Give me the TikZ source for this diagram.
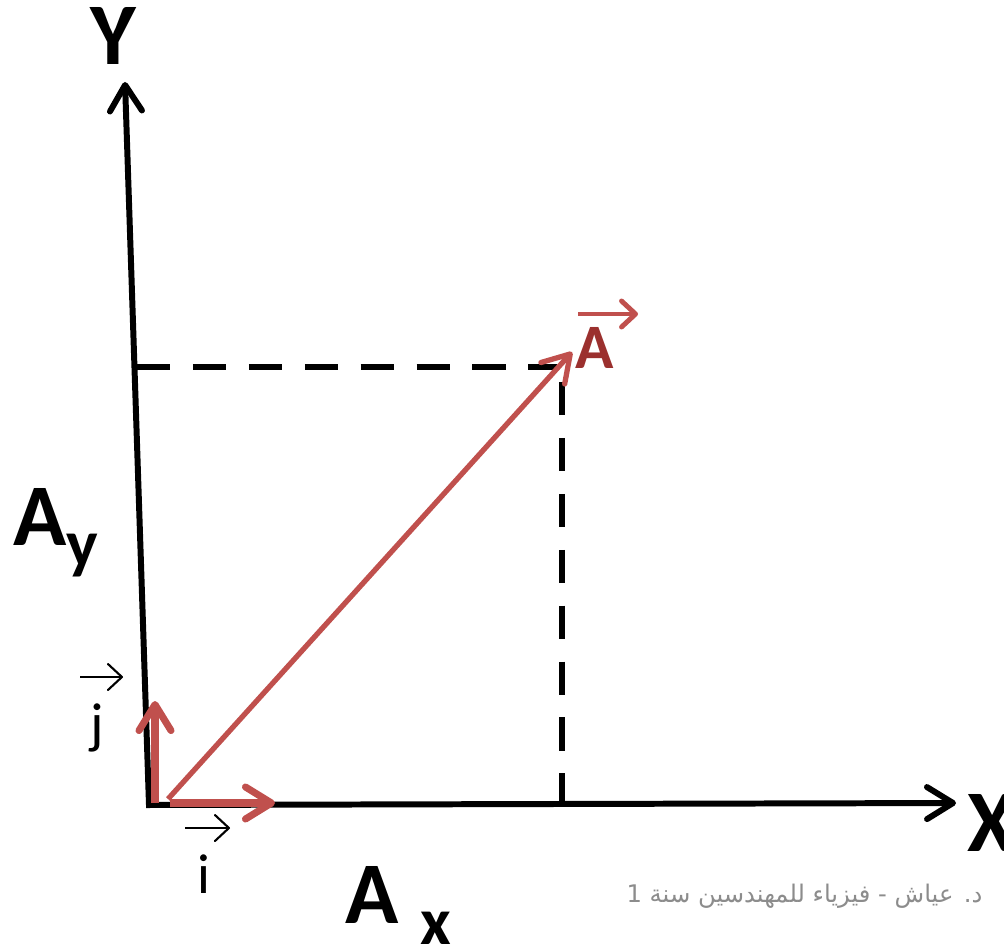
\documentclass[tikz,border=0pt]{standalone}
\usepackage{fontspec}
\setmainfont{Carlito}
\newfontfamily\arabicfont[Script=Arabic]{DejaVu Sans}
\usepackage{xcolor}
\usetikzlibrary{arrows.meta,positioning}
\TeXXeTstate=1
\definecolor{vecred}{RGB}{192,80,77}
\definecolor{labred}{RGB}{155,48,46}
\definecolor{notegray}{RGB}{140,140,140}

\begin{document}
\begin{tikzpicture}[x=0.01cm,y=-0.01cm,
  >={Straight Barb[length=2.6mm,width=3.2mm,round]},
  axis/.style={line width=1.7pt,line join=miter,<->},
  proj/.style={line width=1.7pt,dash pattern=on 9.4pt off 6.5pt},
  vec/.style={vecred,line width=1.5pt,->},
  unit vec/.style={vecred,line width=2pt,->},
  hat arrow/.style={line width=0.6pt,-{Straight Barb[length=1.4mm,width=2.6mm,round]}},
  big label/.style={font=\fontsize{25}{30}\selectfont\bfseries,inner sep=0pt},
  small label/.style={font=\fontsize{16}{19}\selectfont,inner sep=0pt}]
  \useasboundingbox (0,0) rectangle (1004,943);

  \coordinate (O) at (149,805);
  \coordinate (Ytip) at (125,82);
  \coordinate (Xtip) at (956,803);
  \draw[axis] (Ytip) -- (O) -- (Xtip);
  \node[big label] (ylab) at (113,36) {Y};
  \node[big label,anchor=west] (xlab) at (967,823) {X};

  % projections of A on the axes
  \coordinate (Py) at (137,367);
  \coordinate (Pc) at (557,367);
  \coordinate (Qc) at (562,382);
  \coordinate (Qx) at (562,803);
  \draw[proj] (Py) -- (Pc);
  \draw[proj] (Qc) -- (Qx);

  \coordinate (Astart) at (168,799);
  \coordinate (Atip) at (572,352);
  \draw[vec] (Astart) -- (Atip);
  \node[font=\fontsize{18}{22}\selectfont\bfseries,text=labred,inner sep=0pt] (alab) at (595,348) {A};
  \coordinate (ahat) at (578,314);
  \draw[hat arrow,vecred,line width=1.4pt] (ahat) -- ++(60,0);

  % unit vectors
  \coordinate (istart) at (170,803);
  \coordinate (itip) at (275,803);
  \coordinate (jstart) at (155,803);
  \coordinate (jtip) at (155,701);
  \draw[unit vec] (istart) -- (itip);
  \draw[unit vec] (jstart) -- (jtip);

  \node[small label,anchor=base] (ilab) at (204,893) {i};
  \node[small label,anchor=base] (jlab) at (97,742) {j};
  \coordinate (ihat) at (185,828);
  \coordinate (jhat) at (80,677);
  \draw[hat arrow] (ihat) -- ++(45,0);
  \draw[hat arrow] (jhat) -- ++(43,0);

  \node[big label,anchor=base west] (aylab) at (13,545)
    {A\raisebox{-6pt}{\fontsize{19}{22}\selectfont y}};
  \node[big label,anchor=base west] (axlab) at (345,923)
    {A\hspace{6pt}\raisebox{-6pt}{\fontsize{19}{22}\selectfont x}};

  \node[text=notegray,font=\fontsize{6.9}{8}\selectfont,inner sep=0pt,anchor=base east] (note) at (983,902)
    {\arabicfont\beginR د. عياش - فيزياء للمهندسين سنة 1\endR};
\end{tikzpicture}
\end{document}
